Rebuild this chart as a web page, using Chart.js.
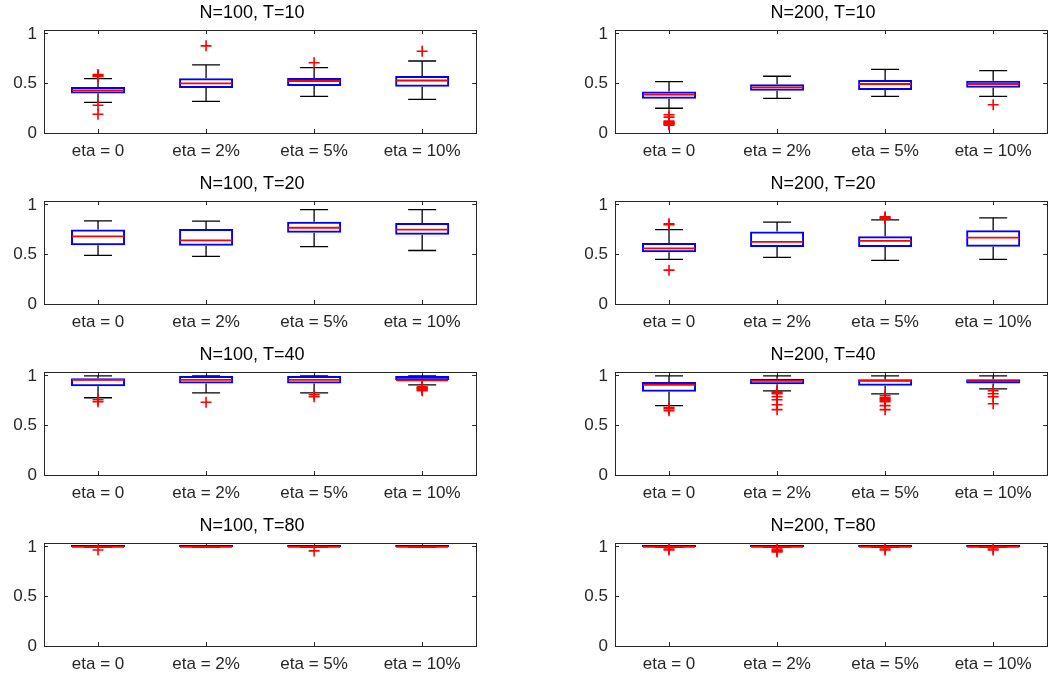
<!DOCTYPE html>
<html>
<head>
<meta charset="utf-8">
<script src="https://cdn.jsdelivr.net/npm/chart.js@4.4.1/dist/chart.umd.min.js"></script>
<style>
  html, body { margin: 0; padding: 0; background: #fff; overflow: hidden; }
  #wrap { position: relative; width: 1050px; height: 677px; overflow: hidden; }
  #wrap canvas { position: absolute; }
</style>
</head>
<body>
<div id="wrap"></div>
<script>
// categories and axis ticks shared by all panels
const categories = ['eta = 0', 'eta = 2%', 'eta = 5%', 'eta = 10%'];
const yTicks = [0, 0.5, 1];
const yMax = 1.04;

// panels in reading order (left column N=100, right column N=200)
const panelTitles = [
  'N=100, T=10', 'N=200, T=10',
  'N=100, T=20', 'N=200, T=20',
  'N=100, T=40', 'N=200, T=40',
  'N=100, T=80', 'N=200, T=80'
];

// box plot statistics, one row per panel, one value per category
const lowerWhisker = [
  [0.31, 0.32, 0.37, 0.34],
  [0.25, 0.35, 0.37, 0.37],
  [0.49, 0.48, 0.58, 0.54],
  [0.45, 0.47, 0.44, 0.45],
  [0.78, 0.83, 0.83, 0.91],
  [0.70, 0.85, 0.82, 0.87],
  [1, 1, 1, 1],
  [1, 1, 1, 1]
];
const q1 = [
  [0.40, 0.455, 0.475, 0.468],
  [0.347, 0.427, 0.434, 0.458],
  [0.593, 0.587, 0.72, 0.70],
  [0.522, 0.575, 0.575, 0.578],
  [0.896, 0.923, 0.923, 0.956],
  [0.84, 0.917, 0.90, 0.923],
  [1, 1, 1, 1],
  [1, 1, 1, 1]
];
const median = [
  [0.43, 0.502, 0.525, 0.53],
  [0.387, 0.461, 0.495, 0.495],
  [0.683, 0.643, 0.77, 0.75],
  [0.561, 0.628, 0.638, 0.671],
  [0.96, 0.96, 0.96, 0.956],
  [0.91, 0.95, 0.95, 0.947],
  [1, 1, 1, 1],
  [1, 1, 1, 1]
];
const q3 = [
  [0.465, 0.552, 0.556, 0.576],
  [0.42, 0.492, 0.535, 0.528],
  [0.753, 0.757, 0.83, 0.817],
  [0.615, 0.731, 0.684, 0.744],
  [0.977, 1, 1, 1],
  [0.94, 0.973, 0.967, 0.967],
  [1, 1, 1, 1],
  [1, 1, 1, 1]
];
const upperWhisker = [
  [0.55, 0.687, 0.66, 0.727],
  [0.518, 0.573, 0.643, 0.63],
  [0.84, 0.837, 0.953, 0.953],
  [0.751, 0.827, 0.85, 0.87],
  [1, 1, 1, 1],
  [1, 1, 1, 1],
  [1, 1, 1, 1],
  [1, 1, 1, 1]
];
const outliers = [
  [[0.57, 0.58, 0.59, 0.28, 0.19], [0.88], [0.71], [0.825]],
  [[0.185, 0.16, 0.12, 0.11, 0.10, 0.10, 0.09, 0.08], [], [], [0.286]],
  [[], [], [], []],
  [[0.80, 0.81, 0.342], [], [0.86, 0.87, 0.88], []],
  [[0.76, 0.74], [0.735], [0.81, 0.79], [0.89, 0.88, 0.875, 0.87, 0.86, 0.85]],
  [[0.68, 0.67, 0.65], [0.84, 0.83, 0.82, 0.79, 0.76, 0.71, 0.66], [0.80, 0.78, 0.77, 0.76, 0.75, 0.74, 0.70, 0.66], [0.85, 0.82, 0.79, 0.72]],
  [[0.97], [], [0.96], []],
  [[0.98, 0.97], [0.98, 0.97, 0.96, 0.95], [0.98, 0.97], [0.98, 0.97]]
];

Chart.defaults.font.family = '"Liberation Sans", Arial, Helvetica, sans-serif';
Chart.defaults.color = '#262626';

const AXIS = '#262626';
const colLeft = [0, 571];
const rowHeight = 171;

function capDataset(values, order) {
  return {
    type: 'line', data: values, order: order, showLine: false,
    pointStyle: 'line', pointRadius: 14,
    pointBorderColor: '#000', pointBackgroundColor: '#000', pointBorderWidth: 1.3,
    xAxisID: 'x', yAxisID: 'y'
  };
}

function whiskerDataset(lo, hi) {
  return {
    type: 'bar', data: categories.map((c, i) => [lo[i], hi[i]]), order: 4,
    grouped: false, maxBarThickness: 1.3, backgroundColor: '#000',
    borderWidth: 0, inflateAmount: 0, xAxisID: 'x', yAxisID: 'y'
  };
}

function panelDatasets(p) {
  const outPts = [];
  categories.forEach((c, i) => {
    outliers[p][i].forEach(v => outPts.push({ x: c, y: v }));
  });
  return [
    {
      type: 'line', data: outPts, order: 0, showLine: false,
      pointStyle: 'cross', pointRadius: 5.5,
      pointBorderColor: '#ff0000', pointBorderWidth: 1.6,
      xAxisID: 'x', yAxisID: 'y'
    },
    {
      type: 'line', data: median[p], order: 1, showLine: false,
      pointStyle: 'line', pointRadius: 26,
      pointBorderColor: '#ff0000', pointBackgroundColor: '#ff0000', pointBorderWidth: 1.8,
      xAxisID: 'x', yAxisID: 'y'
    },
    {
      type: 'bar', data: categories.map((c, i) => [q1[p][i], q3[p][i]]), order: 2,
      grouped: false, barPercentage: 0.5, categoryPercentage: 1,
      backgroundColor: 'rgba(0,0,0,0)', borderColor: '#0000ff', borderWidth: 2,
      borderSkipped: false, minBarLength: 2, xAxisID: 'x', yAxisID: 'y'
    },
    capDataset(upperWhisker[p], 3),
    capDataset(lowerWhisker[p], 3),
    whiskerDataset(q3[p], upperWhisker[p]),
    whiskerDataset(lowerWhisker[p], q1[p])
  ];
}

function setTicks(scale) {
  scale.ticks = yTicks.map(v => ({ value: v }));
}

const wrap = document.getElementById('wrap');

panelTitles.forEach((title, p) => {
  const canvas = document.createElement('canvas');
  canvas.width = 504;
  canvas.height = rowHeight;
  canvas.style.left = colLeft[p % 2] + 'px';
  canvas.style.top = Math.floor(p / 2) * rowHeight + 'px';
  wrap.appendChild(canvas);

  new Chart(canvas.getContext('2d'), {
    type: 'bar',
    data: { labels: categories, datasets: panelDatasets(p) },
    options: {
      responsive: false,
      animation: false,
      events: [],
      layout: { padding: 0 },
      plugins: {
        legend: { display: false },
        tooltip: { enabled: false },
        title: {
          display: true, text: title, color: '#000',
          font: { size: 18, weight: 'normal' },
          padding: { top: 2.5, bottom: 5.9 }
        }
      },
      scales: {
        x: {
          type: 'category', position: 'bottom', offset: true,
          grid: { offset: false, drawOnChartArea: false, tickLength: -4, tickColor: AXIS },
          border: { color: AXIS, width: 1 },
          ticks: { font: { size: 17 }, color: AXIS, padding: 12.5, maxRotation: 0, autoSkip: false },
          afterFit: s => { s.height = 38; }
        },
        y: {
          type: 'linear', position: 'left', min: 0, max: yMax,
          grid: { drawOnChartArea: false, tickLength: -4, tickColor: AXIS },
          border: { color: AXIS, width: 1 },
          ticks: { font: { size: 17 }, color: AXIS, padding: 11, callback: v => String(v) },
          afterBuildTicks: setTicks,
          afterFit: s => { s.width = 44; }
        },
        x2: {
          type: 'category', position: 'top', offset: true,
          grid: { offset: false, drawOnChartArea: false, tickLength: -4, tickColor: AXIS },
          border: { color: AXIS, width: 1 },
          ticks: { display: false },
          afterFit: s => { s.height = 0; }
        },
        y2: {
          type: 'linear', position: 'right', min: 0, max: yMax,
          grid: { drawOnChartArea: false, tickLength: -4, tickColor: AXIS },
          border: { color: AXIS, width: 1 },
          ticks: { display: false },
          afterBuildTicks: setTicks,
          afterFit: s => { s.width = 24; }
        }
      }
    }
  });
});
</script>
</body>
</html>
